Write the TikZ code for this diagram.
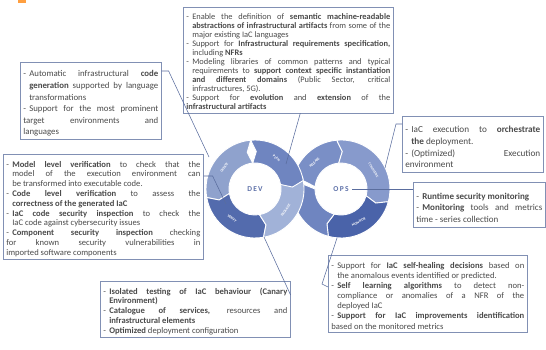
\documentclass[tikz,border=0pt]{standalone}
\usepackage{fontspec}
\setmainfont{Carlito}
\usetikzlibrary{positioning}

\definecolor{boxline}{HTML}{8190B4}
\definecolor{textgray}{HTML}{4A4A4A}
\definecolor{linkblue}{HTML}{5A6D9E}
\definecolor{segLight}{HTML}{8FA2CD}
\definecolor{segMid}{HTML}{7A8FC6}
\definecolor{segPlan}{HTML}{6F85C0}
\definecolor{segDark}{HTML}{4A63A9}
\definecolor{segPack}{HTML}{A1B2D8}
\definecolor{ringText}{HTML}{5D70A8}

% bullet item inside the boxes
\newcommand{\bul}{\par\hangindent=6pt\hangafter=1\noindent\makebox[6pt][l]{-}}
% one segment of a ring: centre, from angle, to angle, tip offset, colour
\newcommand{\ringseg}[5]{%
  \filldraw[segment,fill=#5,shift={(#1)}] (#2:49) arc[start angle=#2,end angle=#3,radius=49]
    -- ({#3+#4}:37.5) -- (#3:26) arc[start angle=#3,end angle=#2,radius=26]
    -- ({#2+#4}:37.5) -- cycle;}

\begin{document}
\begin{tikzpicture}[x=1pt,y=1pt,
  infobox/.style={draw=boxline,line width=0.6pt,fill=white,inner sep=3pt,
    align=justify,anchor=north west,text=textgray,
    font=\fontsize{8.4}{9.05}\selectfont},
  segment/.style={draw=white,line width=0.9pt},
  seglabel/.style={text=white,font=\fontsize{3.6}{4}\selectfont\bfseries,inner sep=0pt},
  center/.style={text=ringText,font=\fontsize{7.5}{8}\selectfont\bfseries},
  connector/.style={draw=linkblue,line width=0.55pt}]
  \useasboundingbox (0,0) rectangle (546,-350);
  \fill[orange!75] (18,0) rectangle (26,-3);

  %Centres of the two rings
  \coordinate (dev) at (255,-189);
  \coordinate (ops) at (341,-189);

  %OPS ring
  \ringseg{ops}{175}{95}{-7}{segMid}
  \ringseg{ops}{95}{-15}{-7}{segMid!90}
  \ringseg{ops}{-15}{-105}{-7}{segDark}
  \ringseg{ops}{-105}{-180}{-7}{segPlan}
  %DEV ring
  \ringseg{dev}{95}{190}{7}{segLight}
  \ringseg{dev}{190}{280}{7}{segDark!95}
  \ringseg{dev}{280}{375}{7}{segPack}
  \ringseg{dev}{10}{95}{-7}{segPlan}

  %Segment labels
  \path[shift={(dev)}] (145:37.5) node[seglabel,rotate=55] (create) {CREATE};
  \path[shift={(dev)}] (55:37.5) node[seglabel,rotate=-35] (plan) {PLAN};
  \path[shift={(dev)}] (232:37.5) node[seglabel,rotate=-38] (verify) {VERIFY};
  \path[shift={(dev)}] (-35:37.5) node[seglabel,rotate=55] (package) {PACKAGE};
  \path[shift={(ops)}] (135:37.5) node[seglabel,rotate=45] (release) {RELEASE};
  \path[shift={(ops)}] (30:37.5) node[seglabel,rotate=-60,font=\fontsize{3.3}{4}\selectfont\bfseries] (configure) {CONFIGURE};
  \path[shift={(ops)}] (-62:37.5) node[seglabel,rotate=28] (monitor) {MONITOR};
  \node[center] (devtxt) at (dev) {D\,E\,V};
  \node[center] (opstxt) at (ops) {O\,P\,S};

  %Boxes
  \node[infobox,text width=204pt] (topbox) at (183,-7) {%
    \bul Enable the definition of \textbf{semantic machine-readable}\linebreak
    \textbf{abstractions of infrastructural artifacts} from some of the\linebreak
    major existing IaC languages
    \bul Support for \textbf{Infrastructural requirements specification,}\linebreak
    including \textbf{NFRs}
    \bul Modeling libraries of common patterns and typical\linebreak
    requirements to \textbf{support context specific instantiation}\linebreak
    \textbf{and different domains} (Public Sector, critical\linebreak
    infrastructures, 5G).
    \bul Support for \textbf{evolution} and \textbf{extension} of the\linebreak
    \textbf{infrastructural artifacts}};
  \node[infobox,text width=135pt,font=\fontsize{8.8}{11.6}\selectfont] (ltbox) at (20,-62) {%
    \bul Automatic infrastructural \textbf{code}\linebreak
    \textbf{generation} supported by language\linebreak
    transformations
    \bul Support for the most prominent\linebreak
    target environments and\linebreak
    languages};
  \node[infobox,text width=194pt,font=\fontsize{8.6}{9.8}\selectfont] (lmbox) at (3,-154) {%
    \bul \textbf{Model level verification} to check that the\linebreak
    model of the execution environment can\linebreak
    be transformed into executable code.
    \bul \textbf{Code level verification} to assess the\linebreak
    \textbf{correctness of the generated IaC}
    \bul \textbf{IaC code security inspection} to check the\linebreak
    IaC code against cybersecurity issues
    \bul \textbf{Component security inspection} checking\linebreak
    for known security vulnerabilities in\linebreak
    imported software components};
  \node[infobox,text width=184pt,font=\fontsize{8.6}{9.8}\selectfont] (bmbox) at (100,-281) {%
    \bul \textbf{Isolated testing of IaC behaviour (Canary}\linebreak
    \textbf{Environment)}
    \bul \textbf{Catalogue of services,} resources and\linebreak
    \textbf{infrastructural elements}
    \bul \textbf{Optimized} deployment configuration};
  \node[infobox,text width=193pt,font=\fontsize{8.6}{10.1}\selectfont] (brbox) at (328,-255) {%
    \bul Support for \textbf{IaC self-healing decisions} based on\linebreak
    the anomalous events identified or predicted.
    \bul \textbf{Self learning algorithms} to detect non-\linebreak
    compliance or anomalies of a NFR of the\linebreak
    deployed IaC
    \bul \textbf{Support for IaC improvements identification}\linebreak
    based on the monitored metrics};
  \node[infobox,text width=135pt,inner ysep=5pt,font=\fontsize{9.2}{11.6}\selectfont] (iacbox) at (402,-116) {%
    \bul IaC execution to \textbf{orchestrate}\linebreak
    \textbf{the} deployment.
    \bul (Optimized) Execution\linebreak
    environment};
  \node[infobox,text width=126pt,inner ysep=5pt,font=\fontsize{9}{11.8}\selectfont] (rtbox) at (413,-182) {%
    \bul \textbf{Runtime security monitoring}
    \bul \textbf{Monitoring} tools and metrics\linebreak
    time - series collection};

  %Connectors
  \coordinate (toCreate) at (209,-157);
  \coordinate (toPlan) at (286,-164);
  \coordinate (toConfigure) at (385,-168);
  \coordinate (toVerify) at (226,-204);
  \coordinate (toPackage) at (264,-237);
  \coordinate (toMonitor) at (337,-238);
  \coordinate (bendMonitor) at (322,-284);
  \draw[connector] ([yshift=-9pt]ltbox.north east) -- ++(7,0) -- (toCreate);
  \draw[connector] ([xshift=12pt]topbox.south) -- (toPlan);
  \draw[connector] ([yshift=-8pt]iacbox.north west) -- ++(-6,0) -- (toConfigure);
  \draw[connector] (opstxt.east) -- (opstxt.east -| rtbox.west);
  \draw[connector] ([yshift=-22pt]lmbox.north east) -- ++(9,0) -- (toVerify);
  \draw[connector] ([yshift=-14pt]bmbox.north east) -- (toPackage);
  \draw[connector] ([yshift=-32pt]brbox.north west) -- (bendMonitor) -- (toMonitor);
\end{tikzpicture}
\end{document}
